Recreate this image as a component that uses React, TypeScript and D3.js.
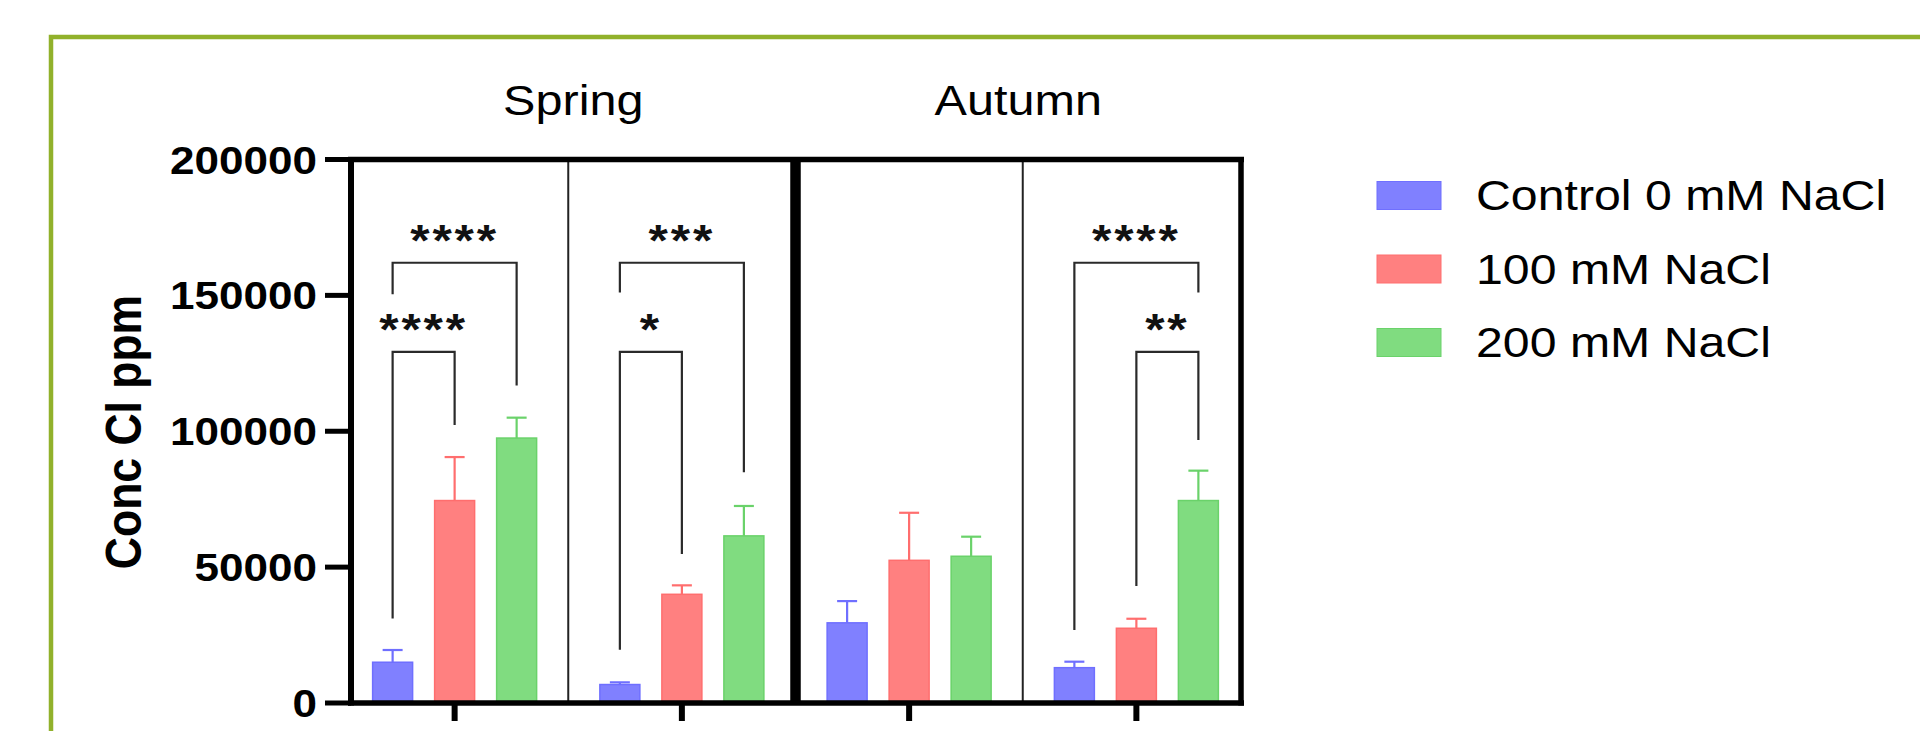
import React from "react";
import * as d3 from "d3";

// ---- data -------------------------------------------------------------
const seasons = ["Spring", "Autumn"];
const groupKeys = ["spring-1", "spring-2", "autumn-1", "autumn-2"];
const seriesNames = ["Control 0 mM NaCl", "100 mM NaCl", "200 mM NaCl"];

const controlMean = [15000, 6800, 29500, 13000];
const controlSD = [4500, 800, 8000, 2200];
const na100Mean = [74500, 40000, 52500, 27500];
const na100SD = [16000, 3300, 17500, 3500];
const na200Mean = [97500, 61500, 54000, 74500];
const na200SD = [7500, 11000, 7200, 11000];

const yTicks = [0, 50000, 100000, 150000, 200000];

// significance brackets: group index, series indices, bracket height and leg ends (ppm)
const brackets = [
  { group: 0, from: 0, to: 1, top: 129200, leftEnd: 31100, rightEnd: 102300, label: "****" },
  { group: 0, from: 0, to: 2, top: 162000, leftEnd: 150400, rightEnd: 116800, label: "****" },
  { group: 1, from: 0, to: 1, top: 129200, leftEnd: 19600, rightEnd: 54800, label: "*" },
  { group: 1, from: 0, to: 2, top: 162000, leftEnd: 151100, rightEnd: 84900, label: "***" },
  { group: 3, from: 0, to: 2, top: 162000, leftEnd: 26900, rightEnd: 151100, label: "****" },
  { group: 3, from: 1, to: 2, top: 129200, leftEnd: 43100, rightEnd: 96800, label: "**" },
];

const fills = ["#8080ff", "#ff8080", "#80dc80"];
const edges = ["#6f6fff", "#ff6e6e", "#6ad26a"];

// ---- layout -----------------------------------------------------------
const W = 1920;
const H = 731;
const frame = { left: 351, right: 1241, top: 159.5, bottom: 703 };
const SX = 1.13; // horizontal stretch of the lettering
const FONT = "Arial, 'Liberation Sans', Helvetica, sans-serif";

const y = d3.scaleLinear().domain([0, 200000]).range([frame.bottom, frame.top]);
const x = d3.scaleBand<string>().domain(groupKeys).range([341, 1250]);
const xs = d3
  .scaleBand<string>()
  .domain(seriesNames)
  .range([0, x.bandwidth()])
  .paddingInner(0.355)
  .paddingOuter(0.51);

const means = [controlMean, na100Mean, na200Mean];
const sds = [controlSD, na100SD, na200SD];

const barCenter = (g: number, s: number) =>
  (x(groupKeys[g]) as number) + (xs(seriesNames[s]) as number) + xs.bandwidth() / 2;

function SText(props: {
  x: number;
  y: number;
  size: number;
  weight?: string | number;
  anchor?: string;
  rotate?: number;
  spacing?: number;
  fill?: string;
  children: React.ReactNode;
}) {
  const { x: tx, y: ty, size, weight = "normal", anchor = "start", rotate = 0, spacing = 0, fill = "#000" } = props;
  return (
    <text
      transform={`translate(${tx},${ty}) scale(${SX},1)${rotate ? ` rotate(${rotate})` : ""}`}
      fontFamily={FONT}
      fontSize={size}
      fontWeight={weight}
      textAnchor={anchor}
      letterSpacing={spacing}
      fill={fill}
    >
      {props.children}
    </text>
  );
}

export default function App() {
  const divider = x(groupKeys[2]) as number;
  const thinDividers = [x(groupKeys[1]) as number, x(groupKeys[3]) as number];
  const seasonCenters = [(frame.left + divider) / 2, (divider + frame.right) / 2];
  const half = xs.bandwidth() / 4;

  return (
    <svg
      width={W}
      height={H}
      viewBox={`0 0 ${W} ${H}`}
      style={{ position: "absolute", left: 0, top: 0, background: "#fff" }}
    >
      <rect x={0} y={0} width={W} height={H} fill="#fff" />
      {/* outer panel border */}
      <rect x={51} y={37} width={W + 40} height={H + 40} fill="none" stroke="#91b12b" strokeWidth={4.5} />

      {/* season headers */}
      {seasons.map((s, i) => (
        <SText key={s} x={seasonCenters[i]} y={115} size={43} anchor="middle">
          {s}
        </SText>
      ))}

      {/* bars */}
      {means.map((arr, s) =>
        arr.map((v, g) => (
          <rect
            key={`b${s}-${g}`}
            x={(x(groupKeys[g]) as number) + (xs(seriesNames[s]) as number)}
            y={y(v)}
            width={xs.bandwidth()}
            height={y(0) - y(v)}
            fill={fills[s]}
            stroke={edges[s]}
            strokeWidth={1.5}
          />
        ))
      )}

      {/* error bars (mean + SD) */}
      {means.map((arr, s) =>
        arr.map((v, g) => {
          const cx = barCenter(g, s);
          const yt = y(v + sds[s][g]);
          return (
            <g key={`e${s}-${g}`} stroke={edges[s]} strokeWidth={2.2} fill="none">
              <line x1={cx} x2={cx} y1={y(v)} y2={yt} />
              <line x1={cx - half} x2={cx + half} y1={yt} y2={yt} />
            </g>
          );
        })
      )}

      {/* significance brackets */}
      {brackets.map((b, i) => {
        const lx = barCenter(b.group, b.from);
        const rx = barCenter(b.group, b.to);
        const d = `M${lx},${y(b.leftEnd)}V${y(b.top)}H${rx}V${y(b.rightEnd)}`;
        return (
          <g key={`k${i}`}>
            <path d={d} fill="none" stroke="#2a2a2a" strokeWidth={2.2} />
            <SText x={(lx + rx) / 2} y={y(b.top) - 7} size={44} weight="bold" anchor="middle" spacing={2.5} fill="#111">
              {b.label}
            </SText>
          </g>
        );
      })}

      {/* panel dividers */}
      {thinDividers.map((dx, i) => (
        <line key={`t${i}`} x1={dx} x2={dx} y1={frame.top} y2={frame.bottom} stroke="#222" strokeWidth={2} />
      ))}
      <line x1={divider} x2={divider} y1={frame.top} y2={frame.bottom} stroke="#000" strokeWidth={10.5} />

      {/* frame */}
      <line x1={frame.left - 3} x2={frame.right + 3} y1={frame.top} y2={frame.top} stroke="#000" strokeWidth={5.5} />
      <line x1={frame.left - 3} x2={frame.right + 3} y1={frame.bottom} y2={frame.bottom} stroke="#000" strokeWidth={5.5} />
      <line x1={frame.left} x2={frame.left} y1={frame.top - 2.5} y2={frame.bottom + 2.5} stroke="#000" strokeWidth={6} />
      <line x1={frame.right} x2={frame.right} y1={frame.top - 2.5} y2={frame.bottom + 2.5} stroke="#000" strokeWidth={5.5} />

      {/* y axis ticks and labels */}
      {yTicks.map((t) => (
        <g key={`y${t}`}>
          <line x1={325} x2={frame.left} y1={y(t)} y2={y(t)} stroke="#000" strokeWidth={5} />
          <SText x={317} y={y(t) + 14} size={39} weight="bold" anchor="end">
            {String(t)}
          </SText>
        </g>
      ))}

      {/* x axis ticks */}
      {groupKeys.map((g) => {
        const cx = (x(g) as number) + x.bandwidth() / 2;
        return <line key={`x${g}`} x1={cx} x2={cx} y1={frame.bottom} y2={721} stroke="#000" strokeWidth={6} />;
      })}

      {/* y axis title */}
      <SText x={141} y={432} size={44.5} weight="bold" anchor="middle" rotate={-90}>
        Conc Cl ppm
      </SText>

      {/* legend */}
      {seriesNames.map((n, i) => (
        <g key={`l${i}`}>
          <rect x={1377} y={181.5 + i * 73.5} width={64} height={28} fill={fills[i]} stroke={edges[i]} strokeWidth={1} />
          <SText x={1476} y={210 + i * 73.5} size={42.7}>
            {n}
          </SText>
        </g>
      ))}
    </svg>
  );
}
